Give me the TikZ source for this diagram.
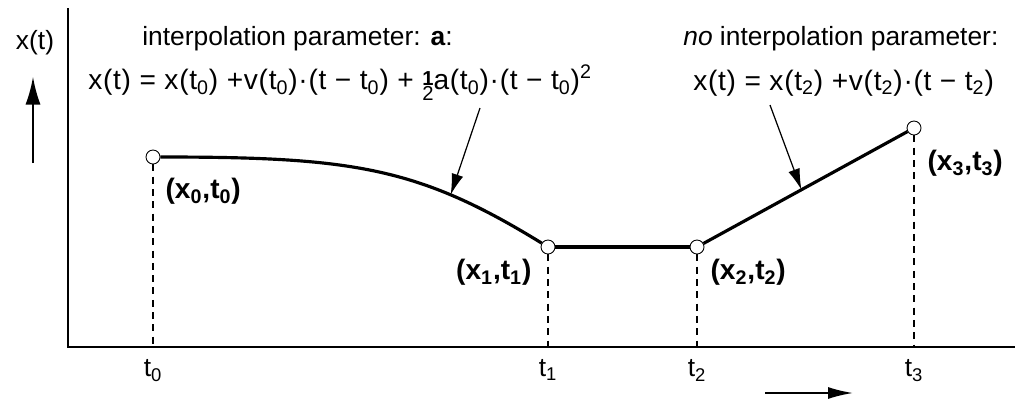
\documentclass[tikz,border=0pt]{standalone}
\usepackage{fontspec}
\setmainfont{Liberation Sans}
\usetikzlibrary{arrows.meta,positioning}
\newcommand{\demi}{\raisebox{-0.75ex}{\shortstack{\fontsize{11.5}{11.5}\selectfont\bfseries 1\\[-2.5pt]\fontsize{11.5}{11.5}\selectfont 2}}}

\begin{document}
\begin{tikzpicture}[
  pt/.style={circle, draw, fill=white, inner sep=0pt, minimum size=0.28cm, line width=0.5pt},
  courbe/.style={line width=1.8pt},
  pointille/.style={line width=0.6pt, dash pattern=on 4pt off 3pt},
  fleche/.style={line width=0.7pt, -{Latex[length=0.42cm,width=0.24cm]}},
  txt/.style={font=\fontsize{15}{18}\selectfont, inner sep=0pt},
  eq/.style={font=\fontsize{16}{18}\selectfont\addfontfeature{LetterSpace=2.5}, inner sep=0pt},
  etiq/.style={font=\fontsize{16}{18}\selectfont\bfseries, inner sep=0pt}
]
\useasboundingbox (0,0) rectangle (20.6,8.04);

% axes
\coordinate (o) at (1.36,1.10);
\coordinate (ytop) at (1.36,7.88);
\coordinate (xend) at (20.30,1.10);
\draw[line width=1.1pt] (ytop) -- (o) -- (xend);

% points d'appui
\node[pt] (p0) at (3.06,4.90) {};
\node[pt] (p1) at (10.96,3.10) {};
\node[pt] (p2) at (13.94,3.10) {};
\node[pt] (p3) at (18.28,5.48) {};

% trajectoire
\draw[courbe] (p0) .. controls (7.06,4.90) and (8.36,4.70) .. (p1) coordinate[pos=0.73] (c1);
\draw[courbe] (p1) -- (p2);
\draw[courbe] (p2) -- (p3) coordinate[pos=0.48] (c2);

% verticales et graduations
\foreach \i in {0,1,2,3} {
  \coordinate (f\i) at (p\i |- o);
  \draw[pointille] (p\i) -- (f\i);
  \node[txt, below=0.25cm of f\i] (t\i) {t\textsubscript{\i}};
}

% etiquettes des points
\node[etiq, below right=0.32cm and 0.14cm of p0] (l0) {(x\textsubscript{0},t\textsubscript{0})};
\node[etiq, below left=0.14cm and 0.22cm of p1] (l1) {(x\textsubscript{1},t\textsubscript{1})};
\node[etiq, below right=0.14cm and 0.16cm of p2] (l2) {(x\textsubscript{2},t\textsubscript{2})};
\node[etiq, below right=0.34cm and 0.16cm of p3] (l3) {(x\textsubscript{3},t\textsubscript{3})};

% textes du haut
\node[txt] (xt) at (0.70,7.18) {x(t)};
\node[txt, anchor=west] (titre1) at (2.84,7.26) {interpolation parameter: \textbf{a}:};
\node[eq, anchor=west] (eq1) at (1.76,6.38) {x(t) = x(t\textsubscript{0}) +v(t\textsubscript{0})·(t − t\textsubscript{0}) + {\addfontfeature{LetterSpace=0}\demi}a(t\textsubscript{0})·(t − t\textsubscript{0})\textsuperscript{2}};
\node[txt, anchor=west] (titre2) at (13.66,7.26) {\textit{no} interpolation parameter:};
\node[eq, anchor=west] (eq2) at (13.86,6.38) {x(t) = x(t\textsubscript{2}) +v(t\textsubscript{2})·(t − t\textsubscript{2})};

% renvois
\coordinate (d1) at (9.60,5.88);
\coordinate (d2) at (15.40,5.94);
\draw[fleche] (d1) -- (c1);
\draw[fleche] (d2) -- (c2);

% fleches de sens
\coordinate (a1) at (0.66,4.78);
\coordinate (a2) at (0.66,6.50);
\draw[line width=1pt, -{Latex[length=0.55cm,width=0.3cm]}] (a1) -- (a2);
\coordinate (b1) at (15.30,0.18);
\coordinate (b2) at (17.06,0.18);
\draw[line width=1pt, -{Latex[length=0.5cm,width=0.24cm]}] (b1) -- (b2);
\end{tikzpicture}
\end{document}
